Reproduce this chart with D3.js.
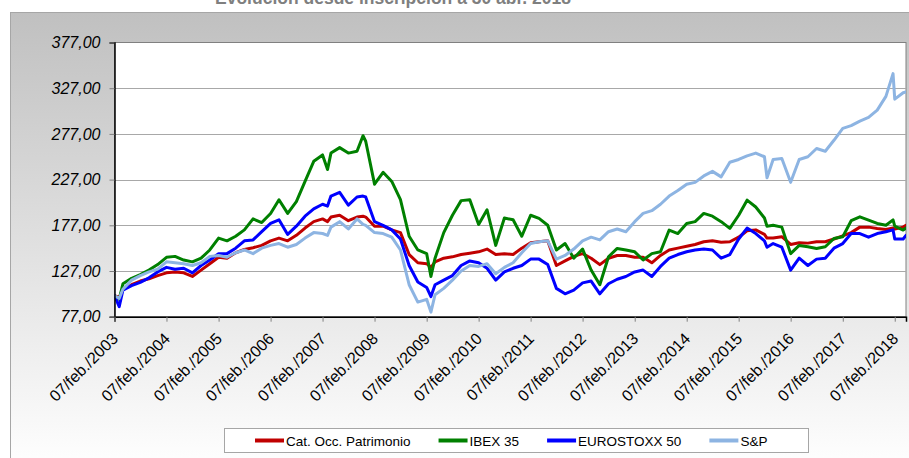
<!DOCTYPE html>
<html>
<head>
<meta charset="utf-8">
<script src="https://cdn.jsdelivr.net/npm/d3@7"></script>
<style>
  html, body { margin: 0; padding: 0; background: #ffffff; }
  svg { display: block; font-family: "Liberation Sans", Arial, sans-serif; }
</style>
</head>
<body>
<svg id="chart" width="909" height="458"></svg>
<script>
// Observation dates (base 100 on 07/feb/2003)
const dates = [
  "2003-02-07","2003-03-12","2003-04-07","2003-06-07","2003-08-07","2003-10-07","2003-12-07",
  "2004-02-07","2004-04-07","2004-06-07","2004-08-07","2004-10-07","2004-12-07",
  "2005-02-07","2005-04-07","2005-06-07","2005-08-07","2005-10-07","2005-12-07",
  "2006-02-07","2006-04-07","2006-06-07","2006-08-07","2006-10-07","2006-12-07",
  "2007-02-07","2007-03-14","2007-04-07","2007-06-07","2007-08-07","2007-10-07","2007-11-18","2007-12-07",
  "2008-02-07","2008-04-07","2008-06-07","2008-08-07","2008-10-07","2008-12-07",
  "2009-02-07","2009-03-09","2009-04-07","2009-06-07","2009-08-07","2009-10-07","2009-12-07",
  "2010-02-07","2010-04-07","2010-06-07","2010-08-07","2010-10-07","2010-12-07",
  "2011-02-07","2011-04-07","2011-06-07","2011-08-07","2011-10-07","2011-12-07",
  "2012-02-07","2012-04-07","2012-06-07","2012-08-07","2012-10-07","2012-12-07",
  "2013-02-07","2013-04-07","2013-06-07","2013-08-07","2013-10-07","2013-12-07",
  "2014-02-07","2014-04-07","2014-06-07","2014-08-07","2014-10-07","2014-12-07",
  "2015-02-07","2015-04-07","2015-06-07","2015-08-07","2015-08-25","2015-10-07","2015-12-07",
  "2016-02-07","2016-04-07","2016-06-07","2016-08-07","2016-10-07","2016-12-07",
  "2017-02-07","2017-04-07","2017-06-07","2017-08-07","2017-10-07","2017-12-07",
  "2018-01-26","2018-02-07","2018-04-07","2018-04-27"
];

const catOcc = [
  100,98,107,112,116,118.5,122,
  125,126,125,121,128,135,
  142,141,147,150.5,152.5,155,
  160,163,160,166,174,181,
  184,181,186,188,182,186,187,186,
  176,176,172,169,145,136,
  135,131,137,141,142.5,145,146.5,
  148,151,145,146,145,152,
  158,159,160,133,138,143,
  146,141,134,141,144,144,
  142,142,136,144,150,152,
  154,156,159,160,158.5,159,
  164,171,172,167,163,163,164.5,
  156,158,157.5,159,159,162,
  165.5,169,175,175,173.5,172.5,
  174,173,175,177
];

const ibex = [
  100,96,113,119,123,128,134,
  142,143,139,137,141,150,
  163,160,165,172,184,180,
  190,205,190,203,225,247,
  254,238,256,262,256,258,275,269,
  222,235,225,205,165,150,
  146,121,141,169,188,204,205,
  178,194,155,185,183,165,
  188,184.5,177,150,157,141,
  151,128,112,142.6,151.7,150,
  148,139,146,148,171.8,168,
  179,181,190,187,181,173.6,
  188,204.5,197,185,176,177,175,
  146,155,153.5,151.7,153.5,162.6,
  164.5,182,186.3,182.7,179,177,
  183,176,171.8,174
];

const eurostoxx = [
  100,88,106,111,114.5,119.5,126,
  131,129,130,125,133,139,
  146,146,152,160,161,170,
  179,183,167,176,187,195,
  200,198,209,213,199,208,209,208,
  181,177,172,162,133,115,
  109,99,112,117,122,133,138,
  136,130,117,126,130,133,
  140,140,134,108,102,106,
  114,116,102,113,118,121,
  126,128,121,132,141,145,
  148,150,151,150,141,145,
  162,174,168,160,153,157,153,
  128,141,133,140,141,152,
  157,168,168,164,168,170,
  172,162,162,166
];

const sp = [
  100,97,107,117,122,126,129,
  137,136,135,133,136,143,
  144,142,147,150,146,152,
  155,157,153,156,163,169,
  168,166,175,181,173,184,178,177,
  169,168,164,150,112,93,
  96,82,101,108,117,127,133,
  132,135,124,131,136,147,
  157,159,160,140,144,151,
  160,164,161,170,173,170,
  181,190,193,200,209,215,
  222,224,231,236,230,246,
  249,253,256,252,229,249,250,
  224,249,252,261,258,270,
  283,286,291,295,303,318,
  343,315,322,323
];

const seriesNames = ["Cat. Occ. Patrimonio", "IBEX 35", "EUROSTOXX 50", "S&P"];
const seriesColors = ["#c00000", "#008000", "#0000ff", "#8db4e2"];
const seriesValues = [catOcc, ibex, eurostoxx, sp];

const yTicks = [77, 127, 177, 227, 277, 327, 377];
const xTickYears = d3.range(2003, 2019);
const monthAbbr = "feb.";
const titleText = "Evolución desde inscripción a 30 abr. 2018";

const parse = d3.timeParse("%Y-%m-%d");
const parsedDates = dates.map(parse);

const svg = d3.select("#chart");
const W = 909, H = 458;

// background panel with vertical grey gradient
const defs = svg.append("defs");
const grad = defs.append("linearGradient")
  .attr("id", "panelGrad").attr("x1", 0).attr("y1", 0).attr("x2", 0).attr("y2", 1);
grad.append("stop").attr("offset", "0%").attr("stop-color", "#c0c0c0");
grad.append("stop").attr("offset", "100%").attr("stop-color", "#ffffff");

svg.append("rect")
  .attr("x", 10.5).attr("y", 12.5)
  .attr("width", W).attr("height", H)
  .attr("fill", "url(#panelGrad)")
  .attr("stroke", "#a6a6a6").attr("stroke-width", 1);

// title (runs past the top edge of the page)
svg.append("text")
  .attr("x", 393).attr("y", 4)
  .attr("text-anchor", "middle")
  .attr("font-size", "17.5px")
  .attr("font-weight", "bold")
  .attr("fill", "#7f7f7f")
  .text(titleText);

// plot area
const plot = { left: 114.5, right: 906, top: 42.5, bottom: 316.7 };

const x = d3.scaleTime()
  .domain([parse("2003-02-07"), parse("2018-04-27")])
  .range([plot.left, plot.right]);

const y = d3.scaleLinear()
  .domain([77, 377])
  .range([plot.bottom, plot.top]);

svg.append("rect")
  .attr("x", plot.left).attr("y", plot.top)
  .attr("width", plot.right - plot.left).attr("height", plot.bottom - plot.top)
  .attr("fill", "#ffffff")
  .attr("stroke", "#808080").attr("stroke-width", 1);

// horizontal gridlines
svg.append("g").selectAll("line")
  .data(yTicks.filter(v => v > 77 && v < 377))
  .join("line")
  .attr("x1", plot.left).attr("x2", plot.right)
  .attr("y1", d => Math.round(y(d)) + 0.5).attr("y2", d => Math.round(y(d)) + 0.5)
  .attr("stroke", "#a8a8a8").attr("stroke-width", 1);

// series lines
svg.append("clipPath").attr("id", "plotClip")
  .append("rect")
  .attr("x", plot.left).attr("y", plot.top)
  .attr("width", plot.right - plot.left).attr("height", plot.bottom - plot.top);

const line = d3.line()
  .x((d, i) => x(parsedDates[i]))
  .y(d => y(d));

const linesG = svg.append("g").attr("clip-path", "url(#plotClip)");
seriesValues.forEach((vals, i) => {
  linesG.append("path")
    .datum(vals)
    .attr("d", line)
    .attr("fill", "none")
    .attr("stroke", seriesColors[i])
    .attr("stroke-width", 3)
    .attr("stroke-linejoin", "round")
    .attr("stroke-linecap", "round");
});

// y axis
const fmt = d3.format(".2f");
const yAxis = d3.axisLeft(y)
  .tickValues(yTicks)
  .tickSize(5)
  .tickPadding(9)
  .tickFormat(d => fmt(d).replace(".", ","));

const yG = svg.append("g")
  .attr("transform", `translate(${plot.left},0)`)
  .call(yAxis);
yG.select(".domain").attr("stroke", "#000").attr("stroke-width", 1.5);
yG.selectAll(".tick line").attr("stroke", "#808080");
yG.selectAll(".tick text")
  .attr("font-size", "16px")
  .attr("font-style", "italic")
  .attr("font-family", "'Liberation Sans', Arial, sans-serif")
  .attr("fill", "#000");

// x axis
const xTickDates = xTickYears.map(yr => new Date(yr, 1, 7));
const xAxis = d3.axisBottom(x)
  .tickValues(xTickDates)
  .tickSize(5)
  .tickFormat(d => `07/${monthAbbr}/${d.getFullYear()}`);

const xG = svg.append("g")
  .attr("transform", `translate(0,${plot.bottom})`)
  .call(xAxis);
xG.select(".domain").attr("stroke", "#000").attr("stroke-width", 1.5);
xG.selectAll(".tick line").attr("stroke", "#808080");
xG.selectAll(".tick text")
  .attr("x", 0).attr("y", 0).attr("dy", 0)
  .attr("text-anchor", "end")
  .attr("transform", "translate(4,23) rotate(-45)")
  .attr("font-size", "16px")
  .attr("font-family", "'Liberation Sans', Arial, sans-serif")
  .attr("fill", "#000");

// legend
const legend = svg.append("g");
legend.append("rect")
  .attr("x", 224.5).attr("y", 428.5)
  .attr("width", 584).attr("height", 24)
  .attr("fill", "#ffffff")
  .attr("stroke", "#a6a6a6").attr("stroke-width", 1);

let lx = 255;
seriesNames.forEach((name, i) => {
  legend.append("line")
    .attr("x1", lx).attr("x2", lx + 29)
    .attr("y1", 440.5).attr("y2", 440.5)
    .attr("stroke", seriesColors[i])
    .attr("stroke-width", 4);
  const t = legend.append("text")
    .attr("x", lx + 31).attr("y", 445.5)
    .attr("font-size", "13.5px")
    .attr("fill", "#000")
    .text(name);
  lx += 31 + t.node().getComputedTextLength() + 28;
});
</script>
</body>
</html>
